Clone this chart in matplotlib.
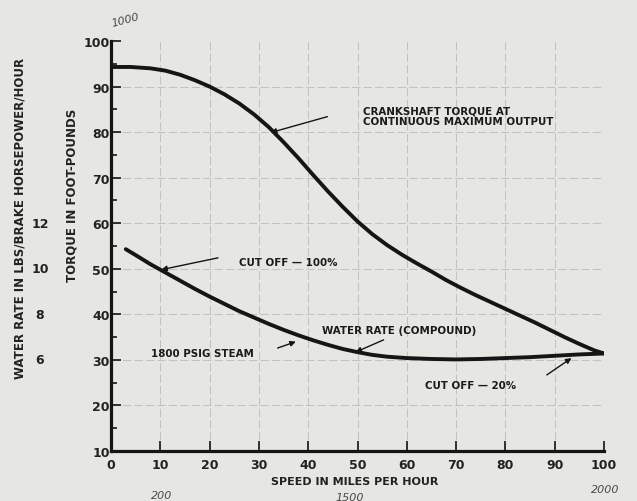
import matplotlib
matplotlib.use("Agg")
import matplotlib.pyplot as plt
from matplotlib.transforms import blended_transform_factory

# ---- data ----
torque_mph = [0, 4, 8, 11, 14, 17, 20, 23, 26, 29, 32, 35, 38, 41, 44, 47, 50, 53, 56, 59,
              62, 65, 68, 71, 74, 77, 80, 83, 86, 89, 92, 95, 98, 100]
torque_val = [94.3, 94.3, 94.0, 93.5, 92.6, 91.4, 90.0, 88.3, 86.3, 83.9, 81.1, 77.8, 74.3, 70.6,
              67.0, 63.6, 60.4, 57.6, 55.2, 53.1, 51.2, 49.4, 47.5, 45.8, 44.2, 42.7, 41.2, 39.7,
              38.2, 36.6, 35.0, 33.5, 32.1, 31.4]

water_mph = [3, 5, 8, 11, 14, 17, 20, 23, 26, 29, 32, 35, 38, 41, 44, 47, 50, 53, 56, 60,
             65, 70, 75, 80, 85, 90, 95, 100]
water_val = [54.3, 53.0, 51.0, 49.2, 47.4, 45.6, 43.9, 42.3, 40.7, 39.3, 37.9, 36.6, 35.4, 34.3,
             33.3, 32.4, 31.7, 31.1, 30.7, 30.4, 30.2, 30.1, 30.2, 30.4, 30.6, 30.9, 31.2, 31.4]

x_ticks = [0, 10, 20, 30, 40, 50, 60, 70, 80, 90, 100]
y_ticks = [10, 20, 30, 40, 50, 60, 70, 80, 90, 100]
water_ticks = ["12", "10", "8", "6"]
water_tick_pos = [60, 50, 40, 30]

paper = "#e6e6e2"
ink = "#151515"
FONT = "DejaVu Sans"

fig = plt.figure(figsize=(6.37, 5.02), dpi=100, facecolor=paper)
ax = fig.add_axes([111/637, 1-452/502, (604-111)/637, (452-42)/502])
ax.set_facecolor(paper)
ax.set_xlim(0, 100)
ax.set_ylim(10, 100)

# grid
for xv in x_ticks[1:]:
    ax.axvline(xv, color="#a6a6a4", lw=0.75, ls=(0, (8, 3)), alpha=0.55, zorder=1)
for yv in y_ticks[1:-1]:
    ax.axhline(yv, color="#a6a6a4", lw=0.75, ls=(0, (8, 3)), alpha=0.55, zorder=1)

# curves
ax.plot(torque_mph, torque_val, color=ink, lw=2.8, solid_capstyle="round",
        solid_joinstyle="round", zorder=3)
ax.plot(water_mph, water_val, color=ink, lw=2.8, solid_capstyle="round",
        solid_joinstyle="round", zorder=3)

# spines
for s in ["top", "right"]:
    ax.spines[s].set_visible(False)
for s in ["left", "bottom"]:
    ax.spines[s].set_linewidth(2.3)
    ax.spines[s].set_color(ink)

ax.set_xticks(x_ticks)
ax.set_yticks(y_ticks)
ax.set_xticklabels([str(v) for v in x_ticks], fontsize=9, fontweight="bold", family=FONT, color="#222")
ax.set_yticklabels([str(v) for v in y_ticks], fontsize=9, fontweight="bold", family=FONT, color="#222")
ax.set_yticks([15, 25, 35, 45, 55, 65, 75, 85, 95], minor=True)
ax.tick_params(axis="both", which="major", direction="in", length=7, width=1.2, color=ink)
ax.tick_params(axis="x", which="major", pad=5)
ax.tick_params(axis="y", which="major", pad=1)
ax.tick_params(axis="y", which="minor", direction="in", length=4, width=1.2, color=ink)

# secondary water-rate labels
tr = blended_transform_factory(fig.transFigure, ax.transData)
for lab, pos in zip(water_ticks, water_tick_pos):
    fig.text(40/637, pos, lab, transform=tr, ha="center", va="center",
             fontsize=9, fontweight="bold", family=FONT, color="#222")

# axis labels
fig.text(355/637, 1-482/502, "SPEED IN MILES PER HOUR", ha="center", va="center",
         fontsize=8, fontweight="bold", family=FONT, color="#222")
fig.text(72/637, 1-195/502, "TORQUE IN FOOT-POUNDS", ha="center", va="center", rotation=90,
         fontsize=8.5, fontweight="bold", family=FONT, color="#222")
fig.text(20/637, 1-218/502, "WATER RATE IN LBS/BRAKE HORSEPOWER/HOUR", ha="center", va="center",
         rotation=90, fontsize=8.5, fontweight="bold", family=FONT, color="#222")

# annotations
arrow = dict(arrowstyle="-|>", lw=1.0, color=ink, mutation_scale=8, shrinkA=0, shrinkB=0)
tkw = dict(fontsize=7.4, fontweight="bold", family=FONT, color="#1a1a1a")
ax.annotate("", xy=(32.4, 79.9), xytext=(43.9, 83.4), arrowprops=arrow)
ax.text(51.2, 83.6, "CRANKSHAFT TORQUE AT\nCONTINUOUS MAXIMUM OUTPUT", ha="left", va="center",
        linespacing=0.95, **tkw)
ax.annotate("", xy=(10.2, 49.8), xytext=(21.7, 52.4), arrowprops=arrow)
ax.text(26.0, 51.5, "CUT OFF \u2014 100%", ha="left", va="center", **tkw)
ax.annotate("", xy=(49.6, 31.7), xytext=(55.3, 34.4), arrowprops=arrow)
ax.text(42.9, 36.6, "WATER RATE (COMPOUND)", ha="left", va="center", **tkw)
ax.annotate("", xy=(37.5, 34.0), xytext=(33.8, 32.6), arrowprops=arrow)
ax.text(8.2, 31.5, "1800 PSIG STEAM", ha="left", va="center", **tkw)
ax.annotate("", xy=(93.4, 30.4), xytext=(88.4, 26.7), arrowprops=arrow)
ax.text(63.7, 24.5, "CUT OFF \u2014 20%", ha="left", va="center", **tkw)

# handwritten notes
hw = dict(fontsize=8, style="italic", family=FONT, color="#4a4a4a")
fig.text(125/637, 1-20/502, "1000", rotation=15, ha="center", va="center", **hw)
fig.text(162/637, 1-496/502, "200", ha="center", va="center", **hw)
fig.text(350/637, 1-498/502, "1500", ha="center", va="center", **hw)
fig.text(605/637, 1-490/502, "2000", ha="center", va="center", **hw)

fig.savefig("out.png", dpi=100, facecolor=paper)
